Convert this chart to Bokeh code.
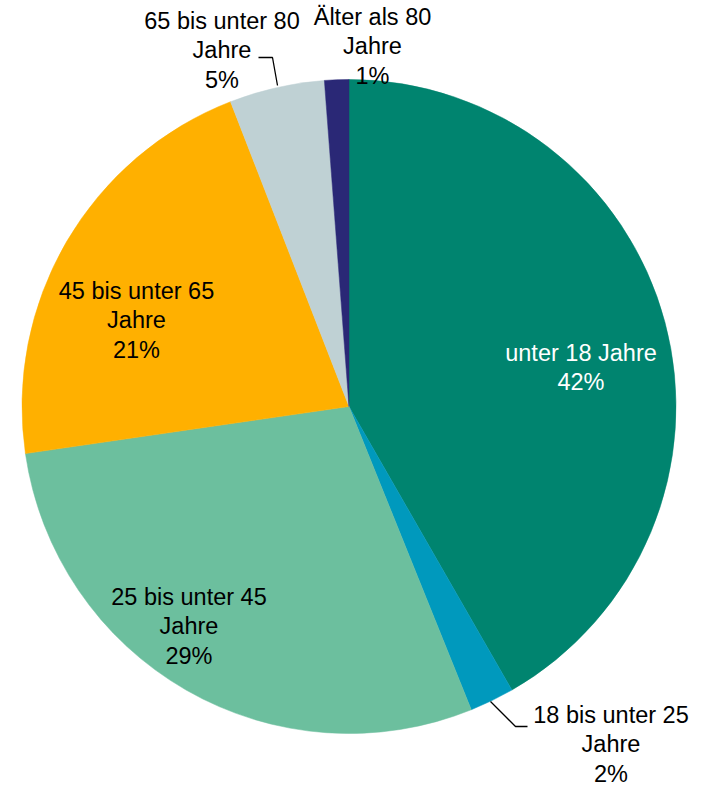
import math
from bokeh.plotting import figure
from bokeh.models import Range1d, ColumnDataSource
from bokeh.core.properties import value
from bokeh.embed import file_html
from bokeh.resources import INLINE

# ---- data ----
categories = ["unter 18 Jahre", "18 bis unter 25 Jahre", "25 bis unter 45 Jahre",
              "45 bis unter 65 Jahre", "65 bis unter 80 Jahre", "Älter als 80 Jahre"]
shares = [41.7, 2.2, 28.8, 21.4, 4.7, 1.2]
label_names = ["unter 18 Jahre", "18 bis unter 25\nJahre", "25 bis unter 45\nJahre",
               "45 bis unter 65\nJahre", "65 bis unter 80\nJahre", "Älter als 80\nJahre"]
colors = ["#00846F", "#0099BD", "#6CBF9E", "#FFB000", "#BFD1D4", "#2A2876"]

# ---- layout (screen pixel coordinates of the page) ----
W, H = 707, 785
cx, cy, R = 348.5, 406.0, 327.0
label_pos = [(580.5, 367), (610.5, 744), (188.5, 626), (136, 320), (221.5, 50), (372, 46)]
label_colors = ["white", "black", "black", "black", "black", "black"]
leaders = [None, [(490, 701), (515, 726), (527, 726)], None, None,
           [(277, 85), (272, 57), (258, 57)], None]

p = figure(width=W, height=H, output_backend="svg", toolbar_location=None,
           x_range=Range1d(0, W), y_range=Range1d(-H, 0),
           min_border=0)
p.axis.visible = False
p.grid.visible = False
p.outline_line_color = None
p.background_fill_color = "white"
p.border_fill_color = "white"

total = sum(shares)
starts, ends = [], []
a = math.pi / 2
for s in shares:
    starts.append(a)
    a -= s / total * 2 * math.pi
    ends.append(a)

src = ColumnDataSource(dict(start=starts, end=ends, color=colors, cat=categories))
p.wedge(x=cx, y=-cy, radius=R, start_angle="start", end_angle="end",
        direction="clock", fill_color="color", line_color="color", line_width=0.5,
        source=src)

for lead in leaders:
    if lead:
        p.line([q[0] for q in lead], [-q[1] for q in lead], line_color="black", line_width=1.3)

texts = [f"{n}\n{round(s / total * 100)}%" for n, s in zip(label_names, shares)]
tsrc = ColumnDataSource(dict(x=[q[0] for q in label_pos], y=[-q[1] for q in label_pos],
                             t=texts, c=label_colors))
p.text(x="x", y="y", text="t", text_color="c", source=tsrc,
       text_align="center", text_baseline="middle",
       text_font=value("Liberation Sans"), text_font_size="23.5px",
       text_line_height=1.12)

open("out.html", "w").write(file_html(p, INLINE))
